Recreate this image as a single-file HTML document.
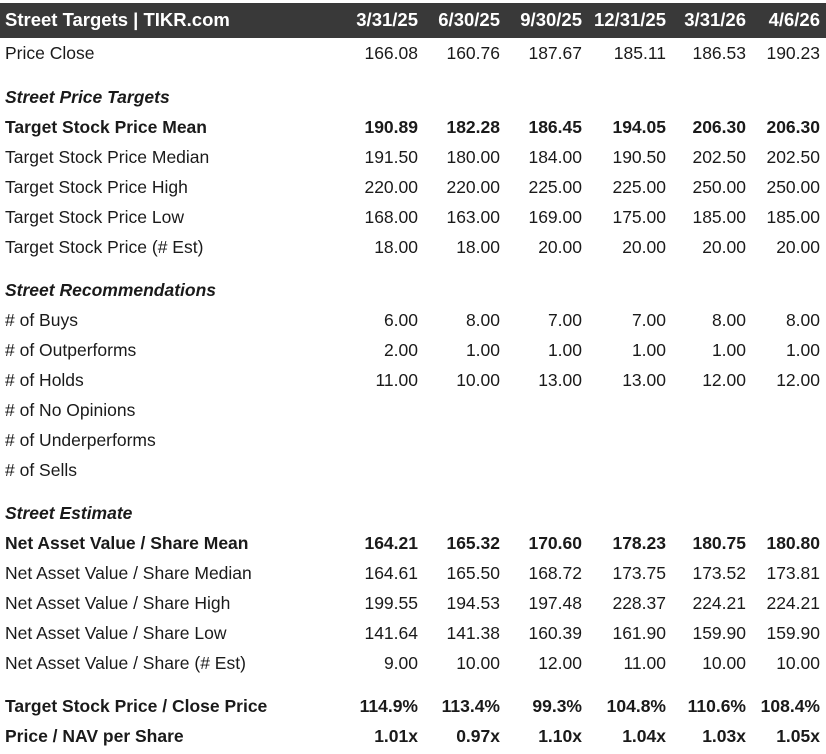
<!DOCTYPE html>
<html><head><meta charset="utf-8"><style>
body{margin:0;width:826px;height:754px;background:#fff;font-family:"Liberation Sans",Arial,sans-serif;font-size:17.5px;color:#1a1a1a;position:relative;overflow:hidden}
.hdr{position:absolute;left:0;top:3px;width:826px;height:35px;background:#393939}
.r{position:absolute;left:0;width:826px;height:30px;line-height:30px}
.r span{position:absolute;top:0;white-space:nowrap}
.l{left:5px}
.c1{right:408px}.c2{right:326px}.c3{right:244px}.c4{right:160px}.c5{right:80px}.c6{right:6px}
.b{font-weight:bold}
.i{font-weight:bold;font-style:italic}
.h{color:#fff;font-weight:bold;font-size:18.5px}
</style></head><body>
<div class="hdr"></div>
<div class="r h" style="top:5px"><span class="l">Street Targets | TIKR.com</span><span class="c1">3/31/25</span><span class="c2">6/30/25</span><span class="c3">9/30/25</span><span class="c4">12/31/25</span><span class="c5">3/31/26</span><span class="c6">4/6/26</span></div>
<div class="r" style="top:38px"><span class="l">Price Close</span><span class="c1">166.08</span><span class="c2">160.76</span><span class="c3">187.67</span><span class="c4">185.11</span><span class="c5">186.53</span><span class="c6">190.23</span></div>
<div class="r i" style="top:82px"><span class="l">Street Price Targets</span></div>
<div class="r b" style="top:112px"><span class="l">Target Stock Price Mean</span><span class="c1">190.89</span><span class="c2">182.28</span><span class="c3">186.45</span><span class="c4">194.05</span><span class="c5">206.30</span><span class="c6">206.30</span></div>
<div class="r" style="top:142px"><span class="l">Target Stock Price Median</span><span class="c1">191.50</span><span class="c2">180.00</span><span class="c3">184.00</span><span class="c4">190.50</span><span class="c5">202.50</span><span class="c6">202.50</span></div>
<div class="r" style="top:172px"><span class="l">Target Stock Price High</span><span class="c1">220.00</span><span class="c2">220.00</span><span class="c3">225.00</span><span class="c4">225.00</span><span class="c5">250.00</span><span class="c6">250.00</span></div>
<div class="r" style="top:202px"><span class="l">Target Stock Price Low</span><span class="c1">168.00</span><span class="c2">163.00</span><span class="c3">169.00</span><span class="c4">175.00</span><span class="c5">185.00</span><span class="c6">185.00</span></div>
<div class="r" style="top:232px"><span class="l">Target Stock Price (# Est)</span><span class="c1">18.00</span><span class="c2">18.00</span><span class="c3">20.00</span><span class="c4">20.00</span><span class="c5">20.00</span><span class="c6">20.00</span></div>
<div class="r i" style="top:275px"><span class="l">Street Recommendations</span></div>
<div class="r" style="top:305px"><span class="l"># of Buys</span><span class="c1">6.00</span><span class="c2">8.00</span><span class="c3">7.00</span><span class="c4">7.00</span><span class="c5">8.00</span><span class="c6">8.00</span></div>
<div class="r" style="top:335px"><span class="l"># of Outperforms</span><span class="c1">2.00</span><span class="c2">1.00</span><span class="c3">1.00</span><span class="c4">1.00</span><span class="c5">1.00</span><span class="c6">1.00</span></div>
<div class="r" style="top:365px"><span class="l"># of Holds</span><span class="c1">11.00</span><span class="c2">10.00</span><span class="c3">13.00</span><span class="c4">13.00</span><span class="c5">12.00</span><span class="c6">12.00</span></div>
<div class="r" style="top:395px"><span class="l"># of No Opinions</span></div>
<div class="r" style="top:425px"><span class="l"># of Underperforms</span></div>
<div class="r" style="top:455px"><span class="l"># of Sells</span></div>
<div class="r i" style="top:498px"><span class="l">Street Estimate</span></div>
<div class="r b" style="top:528px"><span class="l">Net Asset Value / Share Mean</span><span class="c1">164.21</span><span class="c2">165.32</span><span class="c3">170.60</span><span class="c4">178.23</span><span class="c5">180.75</span><span class="c6">180.80</span></div>
<div class="r" style="top:558px"><span class="l">Net Asset Value / Share Median</span><span class="c1">164.61</span><span class="c2">165.50</span><span class="c3">168.72</span><span class="c4">173.75</span><span class="c5">173.52</span><span class="c6">173.81</span></div>
<div class="r" style="top:588px"><span class="l">Net Asset Value / Share High</span><span class="c1">199.55</span><span class="c2">194.53</span><span class="c3">197.48</span><span class="c4">228.37</span><span class="c5">224.21</span><span class="c6">224.21</span></div>
<div class="r" style="top:618px"><span class="l">Net Asset Value / Share Low</span><span class="c1">141.64</span><span class="c2">141.38</span><span class="c3">160.39</span><span class="c4">161.90</span><span class="c5">159.90</span><span class="c6">159.90</span></div>
<div class="r" style="top:648px"><span class="l">Net Asset Value / Share (# Est)</span><span class="c1">9.00</span><span class="c2">10.00</span><span class="c3">12.00</span><span class="c4">11.00</span><span class="c5">10.00</span><span class="c6">10.00</span></div>
<div class="r b" style="top:691px"><span class="l">Target Stock Price / Close Price</span><span class="c1">114.9%</span><span class="c2">113.4%</span><span class="c3">99.3%</span><span class="c4">104.8%</span><span class="c5">110.6%</span><span class="c6">108.4%</span></div>
<div class="r b" style="top:721px"><span class="l">Price / NAV per Share</span><span class="c1">1.01x</span><span class="c2">0.97x</span><span class="c3">1.10x</span><span class="c4">1.04x</span><span class="c5">1.03x</span><span class="c6">1.05x</span></div>
</body></html>
